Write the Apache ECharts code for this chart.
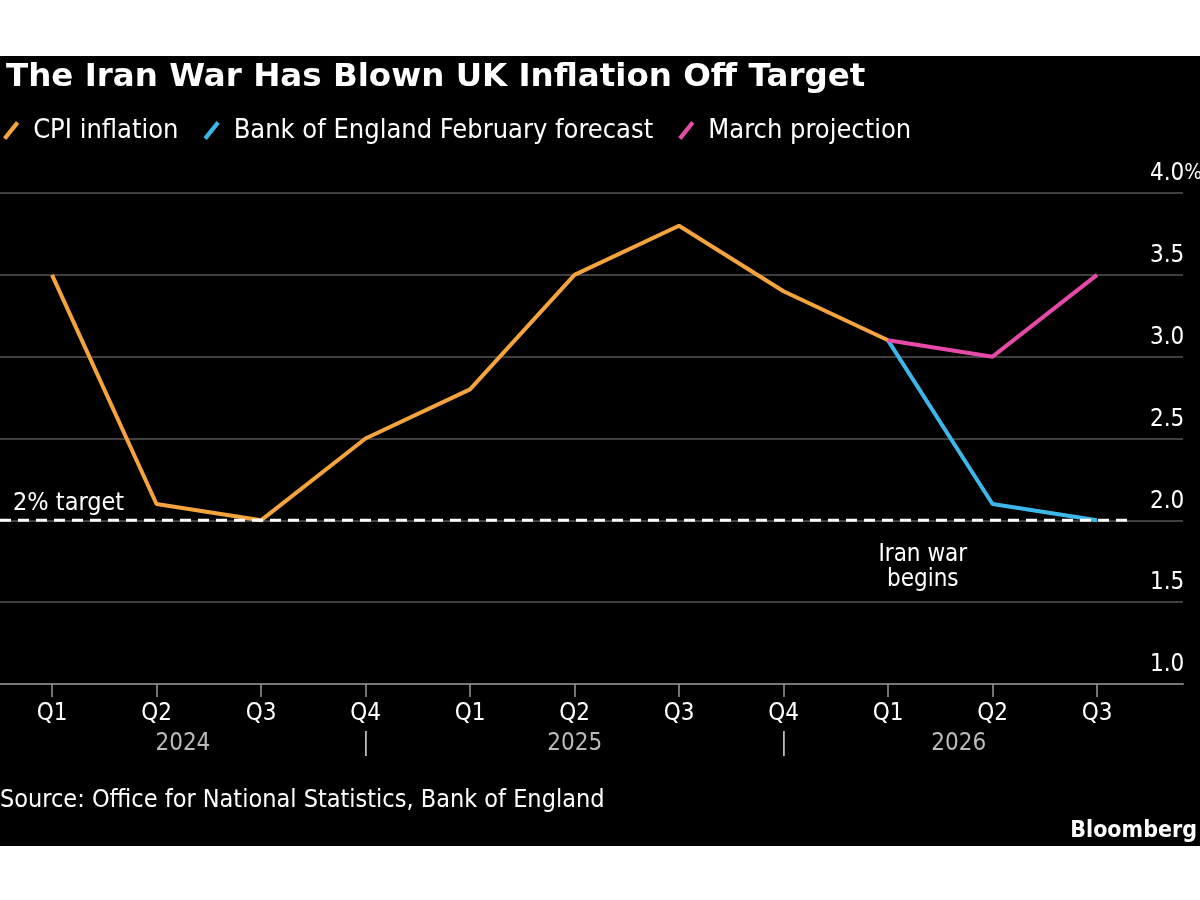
<!DOCTYPE html>
<html><head><meta charset="utf-8">
<script src="https://cdn.jsdelivr.net/npm/echarts@6/dist/echarts.min.js"></script>
<style>html,body{margin:0;background:#fff;} #c{position:absolute;left:0;top:56px;width:1200px;height:790px;}</style>
</head><body><div id="c"></div>
<script>
const quarters = ['Q1','Q2','Q3','Q4','Q1','Q2','Q3','Q4','Q1','Q2','Q3'];
const cpi = [3.5,2.1,2.0,2.5,2.8,3.5,3.8,3.4,3.1,null,null];
const febForecast = [null,null,null,null,null,null,null,null,3.1,2.1,2.0];
const marchProjection = [null,null,null,null,null,null,null,null,3.1,3.0,3.5];
const yMin = 1.0, yMax = 4.0, yStep = 0.5;
const years = ['2024','2025','2026'];
const yearSpans = [[-0.5,3],[3,7],[7,10.35]];
const yearSeparators = [3,7];
const target = 2.0;
const targetSpan = [-0.5, 10.35];
const targetLabel = '2% target';
const warNote = 'Iran war\nbegins';
const warNoteAt = [8.33, 1.73];

const FONT = "'DejaVu Sans Condensed','DejaVu Sans',sans-serif";
const TFONT = "'DejaVu Sans',sans-serif";
const ORANGE = '#f5a33d', BLUE = '#3db7e9', PINK = '#e64aa8';
const SLASH = 'path://M0,15 L12,0 L15,2.5 L3,17.5 Z';

const chart = echarts.init(document.getElementById('c'), null, {renderer:'canvas'});
const option = {
  backgroundColor: '#000',
  animation: false,
  textStyle: {fontFamily: FONT},
  title: {
    text: 'The Iran War Has Blown UK Inflation Off Target',
    left: 1, top: 0,
    textStyle: {color:'#fff', fontSize: 32.5, fontWeight:'bold', fontFamily: TFONT}
  },
  legend: {
    left: 3, top: 61, padding: 0, itemWidth: 18, itemHeight: 19, itemGap: 25,
    data: [
      {name:'CPI inflation', icon: SLASH},
      {name:'Bank of England February forecast', icon: SLASH},
      {name:'March projection', icon: SLASH}
    ],
    textStyle: {color:'#fff', fontSize: 27, fontFamily: FONT, padding:[0,0,0,8]}
  },
  grid: [
    {left: 0, right: 17, top: 137, bottom: 162, outerBoundsMode: 'none', containLabel: false},
    {left: 52, right: 103, top: 137, bottom: 162, outerBoundsMode: 'none', containLabel: false}
  ],
  xAxis: [
    {type:'value', gridIndex:0, min:-0.5, max:10.82,
     axisLabel:{show:false}, axisTick:{show:false}, splitLine:{show:false},
     axisLine:{show:true, lineStyle:{color:'#777', width:2}}},
    {type:'category', gridIndex:1, data: quarters, boundaryGap:false,
     axisLine:{show:false},
     axisTick:{show:true, length:13, lineStyle:{color:'#999', width:1.5}},
     axisLabel:{color:'#fff', fontSize:24, margin:18, fontFamily: FONT}}
  ],
  yAxis: [
    {type:'value', gridIndex:0, position:'right', min:yMin, max:yMax, interval:yStep,
     axisLine:{show:false}, axisTick:{show:false},
     splitLine:{show:true, lineStyle:{color:'#555', width:1.5}},
     axisLabel:{inside:true, align:'left', margin:33, verticalAlign:'bottom', padding:[0,0,7,0],
       color:'#fff', fontSize:24, fontFamily: FONT,
       rich: {p: {color:'#fff', fontSize:21, fontFamily: FONT}},
       formatter: v => (v === yMax ? v.toFixed(1) + '{p|%}' : v.toFixed(1))}},
    {type:'value', gridIndex:1, min:yMin, max:yMax, interval:yStep, show:false}
  ],
  series: [
    {name:'CPI inflation', type:'line', xAxisIndex:1, yAxisIndex:1, data: cpi,
     showSymbol:false, symbol:'none', color: ORANGE, lineStyle:{width:4, color: ORANGE}, z:3},
    {name:'Bank of England February forecast', type:'line', xAxisIndex:1, yAxisIndex:1, data: febForecast,
     showSymbol:false, symbol:'none', color: BLUE, lineStyle:{width:4, color: BLUE}, z:3},
    {name:'March projection', type:'line', xAxisIndex:1, yAxisIndex:1, data: marchProjection,
     showSymbol:false, symbol:'none', color: PINK, lineStyle:{width:4, color: PINK}, z:3},
    {name:'target', type:'line', xAxisIndex:0, yAxisIndex:0,
     data: [[targetSpan[0], target],[targetSpan[1], target]],
     showSymbol:false, symbol:'none', silent:true, z:5,
     lineStyle:{color:'#fff', width:3, type:[11,7]}}
  ]
};
chart.setOption(option);

const toPx = (x, y) => chart.convertToPixel({xAxisIndex:0, yAxisIndex:0}, [x, y]);
const g = [];
const yearY = toPx(0, yMin)[1] + 60;
years.forEach((yr, i) => {
  const cx = toPx((yearSpans[i][0] + yearSpans[i][1]) / 2, yMin)[0];
  g.push({type:'text', x: cx, y: yearY, style:{text: yr, fill:'#bbb', font: `24px ${FONT}`, textAlign:'center', textVerticalAlign:'middle'}});
});
yearSeparators.forEach(s => {
  const cx = toPx(s, yMin)[0];
  g.push({type:'text', x: cx, y: yearY, style:{text: '|', fill:'#bbb', font: `24px ${FONT}`, textAlign:'center', textVerticalAlign:'middle'}});
});
const tp = toPx(targetSpan[0], target);
g.push({type:'text', x: 13, y: tp[1] - 17, z: 10, style:{text: targetLabel, fill:'#fff', font: `25px ${FONT}`, textAlign:'left', textVerticalAlign:'middle'}});
const wp = toPx(warNoteAt[0], warNoteAt[1]);
g.push({type:'text', x: wp[0], y: wp[1] + 3, style:{text: warNote, fill:'#fff', font: `24px ${FONT}`, textAlign:'center', textVerticalAlign:'middle', lineHeight: 25}});
g.push({type:'text', left: 0, top: 732, style:{text:'Source: Office for National Statistics, Bank of England', fill:'#fff', font: `25px ${FONT}`}});
g.push({type:'text', right: 3, top: 764, style:{text:'Bloomberg', fill:'#fff', font: `bold 23px ${FONT}`}});
chart.setOption({graphic: g});
</script></body></html>
